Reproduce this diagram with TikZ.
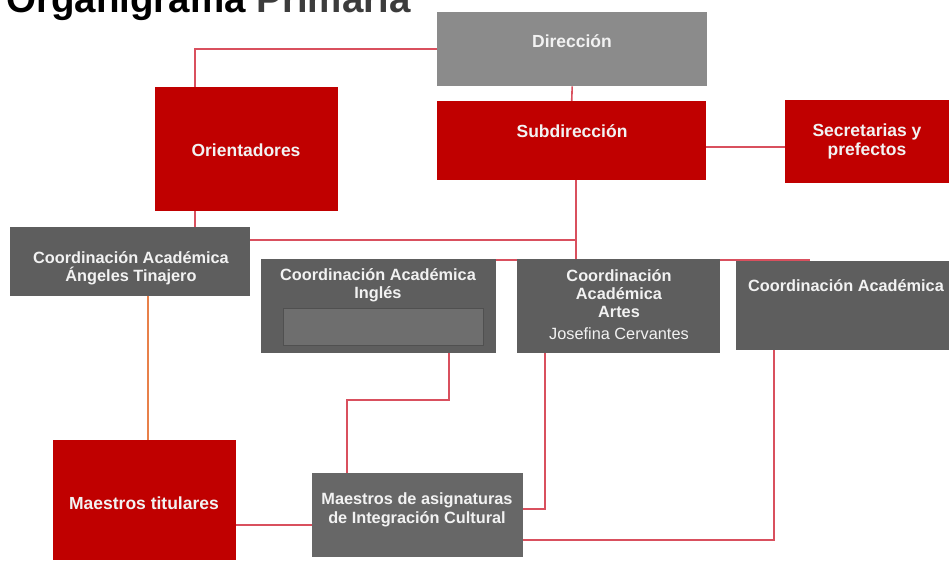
\documentclass[tikz,border=0pt]{standalone}
\usepackage{fontspec}
\setmainfont{Liberation Sans}
\definecolor{boxred}{HTML}{C00000}
\definecolor{dirgray}{HTML}{8B8B8B}
\definecolor{coordgray}{HTML}{5E5E5E}
\definecolor{asigray}{HTML}{676767}
\definecolor{linered}{HTML}{D9505E}
\definecolor{lineorange}{HTML}{E8804A}
\definecolor{txt}{HTML}{F2F2F2}
\definecolor{titlegray}{HTML}{3C3C3C}
\tikzset{
  cbox/.style={fill=#1, draw=none, anchor=north west, inner sep=0pt},
  conn/.style={draw=linered, line width=1.6pt},
  lbl/.style={text=txt, font=\fontsize{17.5}{19}\selectfont\bfseries, align=center, inner sep=0pt},
  slbl/.style={text=txt, font=\fontsize{16.3}{18.5}\selectfont\bfseries, align=center, inner sep=0pt},
}
\begin{document}
\begin{tikzpicture}[x=1pt,y=-1pt]
\clip (0,0) rectangle (949,560);
\useasboundingbox (0,0) rectangle (949,560);
\fill[white] (0,0) rectangle (949,560);
% title (cut off at the top edge, as in the reference)
\node[anchor=base west, inner sep=0pt, font=\fontsize{38.5}{40}\selectfont\bfseries] (title) at (6,12) {Organigrama \textcolor{titlegray}{Primaria}};
% connector helper coordinates
\coordinate (bus) at (576,260);
\coordinate (j1) at (576,240);
\coordinate (j2) at (274,525);
\coordinate (k1) at (347,400);
\coordinate (k2) at (545,509);
\coordinate (k3) at (774,540);
\coordinate (busend) at (810,260);
% boxes (geometry)
\node[cbox=dirgray, minimum width=270pt, minimum height=74pt] (dir) at (437,12) {};
\node[cbox=boxred, minimum width=269pt, minimum height=79pt] (sub) at (437,101) {};
\node[cbox=boxred, minimum width=164pt, minimum height=83pt] (sec) at (785,100) {};
\node[cbox=boxred, minimum width=183pt, minimum height=124pt] (ori) at (155,87) {};
\node[cbox=coordgray, minimum width=240pt, minimum height=69pt] (ang) at (10,227) {};
\node[cbox=boxred, minimum width=183pt, minimum height=120pt] (mtit) at (53,440) {};
\node[cbox=asigray, minimum width=211pt, minimum height=84pt] (masi) at (312,473) {};
% connectors
\draw[conn] (dir.west) -| ([xshift=40pt]ori.north west);
\draw[conn] (dir.south) -- (sub.north);
\draw[conn] ([yshift=-6pt]sub.east) -- ([yshift=-6pt]sub.east -| sec.west);
\draw[conn] (sub.south -| bus) -- (bus);
\draw[conn] (j1 -| ang.east) -- (j1);
\draw[conn] (261,260) -- (busend);
\draw[conn] ([xshift=40pt]ori.south west) -- ([xshift=40pt]ori.south west |- ang.north);
\draw[draw=lineorange, line width=1.4pt] ([xshift=138pt]ang.south west) -- ([xshift=138pt]ang.south west |- mtit.north);
\draw[conn] (j2 -| mtit.east) -- (j2 -| masi.west);
% coordination boxes on top of the bus line
\node[cbox=coordgray, minimum width=235pt, minimum height=94pt] (ing) at (261,259) {};
\node[cbox=coordgray, minimum width=203pt, minimum height=94pt] (art) at (517,259) {};
\node[cbox=coordgray, minimum width=213pt, minimum height=89pt] (cor) at (736,261) {};
\node[cbox=coordgray!90!white, draw=coordgray!85!black, line width=0.6pt, minimum width=200pt, minimum height=37pt] (ingin) at (283,308) {};
\draw[conn] ([xshift=188pt]ing.south west) |- (k1) -- (k1 |- masi.north);
\draw[conn] (k2 |- art.south) -- (k2) -- (k2 -| masi.east);
\draw[conn] (k3 |- cor.south) -- (k3) -- (k3 -| masi.east);
% labels
\node[lbl] (dirT) at (572,41) {Dirección};
\node[lbl] (subT) at (572,131) {Subdirección};
\node[lbl] (secT) at (867,141) {Secretarias y\\prefectos};
\node[lbl] (oriT) at (246,150) {Orientadores};
\node[slbl] (angT) at (131,268) {Coordinación Académica\\Ángeles Tinajero};
\node[slbl] (ingT) at (378,285) {Coordinación Académica\\Inglés};
\node[slbl, font=\fontsize{16.3}{18}\selectfont] (artT) at (619,305) {\bfseries Coordinación\\\bfseries Académica\\\bfseries Artes\\[4pt]Josefina Cervantes};
\node[slbl] (corT) at (846,286) {Coordinación Académica};
\node[lbl] (mtitT) at (144,503) {Maestros titulares};
\node[slbl] (masiT) at (417,510) {Maestros de asignaturas\\de Integración Cultural};
\end{tikzpicture}
\end{document}
